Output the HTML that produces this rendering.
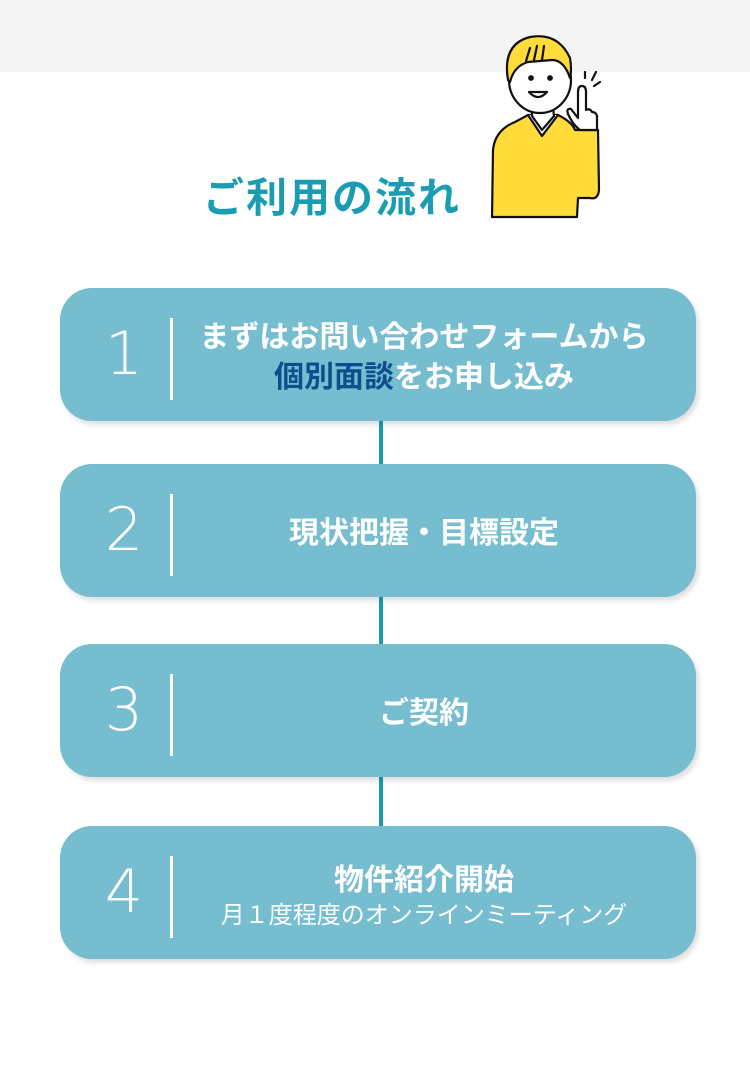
<!DOCTYPE html>
<html><head><meta charset="utf-8"><style>
body{margin:0;width:750px;height:1074px;background:#fff;position:relative;overflow:hidden;font-family:"Liberation Sans","Noto Sans CJK JP",sans-serif}
.band{position:absolute;left:0;top:0;width:750px;height:72px;background:#f4f4f4}
.title{position:absolute;left:203px;top:164px;width:300px;font-size:41px;font-weight:bold;color:#1a9db3;letter-spacing:2px;white-space:nowrap}
.line{position:absolute;left:379px;width:4px;background:#1a9bb5}
.box{position:absolute;left:60px;width:636px;height:133px;background:#76bdcf;border-radius:32px;box-shadow:3px 4px 5px rgba(0,0,0,0.12);color:#fff}
.num{position:absolute;left:30px;width:68px;top:24px;text-align:center;font-size:60px;font-weight:normal;line-height:84px;font-family:"DejaVu Sans","Liberation Sans",sans-serif;font-weight:200;color:#fff;-webkit-text-stroke:0px}
.div{position:absolute;left:110px;top:30px;width:3px;height:82px;background:#fff}
.txt{position:absolute;left:128px;right:36px;top:3px;height:133px;display:flex;flex-direction:column;justify-content:center;align-items:center;text-align:center;font-weight:bold;font-size:30px;line-height:40px;white-space:nowrap}
.sub{font-weight:normal;font-size:24px;line-height:30px}
</style></head><body>
<div class="band"></div>
<svg style="position:absolute;left:480px;top:30px" width="130" height="195" viewBox="0 0 130 195">
<g stroke="#111" stroke-width="2.2" stroke-linejoin="round" stroke-linecap="round">
<path d="M12 187 L13 120 Q15 100 35 92 L48 85 L78 85 Q92 92 95 100 L100 100 L118 100 L119 160 Q118 170 110 168 L98 168 L97 187 Z" fill="#ffdc3a"/>
<path d="M48 85 L62 106 L78 85" fill="#fff"/>
<path d="M52 70 L52 86 L62 100 L74 86 L72 70" fill="#fff"/>
<ellipse cx="60" cy="50" rx="31" ry="33" fill="#fff"/>
<path d="M28 50 Q22 14 50 7 Q78 2 90 28 Q92 40 90 48 Q84 30 72 30 L48 32 Q34 36 30 52 Z" fill="#ffdc3a"/>
<path d="M50 18 L46 31 M57 16 L54 30 M64 16 L62 30" fill="none"/>
<path d="M49 62 Q58 72 67 62 Z" fill="#fff"/>
<circle cx="51" cy="48" r="1.8" fill="#111"/><circle cx="70" cy="48" r="1.8" fill="#111"/>
<path d="M98 68 L98 62 Q98 56 102 56 Q106 56 106 62 L106 80 Q110 78 112 82 Q116 82 117 86 L117 100 L100 100 Q93 95 88 84 Q86 78 91 79 L98 88 Z" fill="#fff"/>
<path d="M105 48 L105 42 M112 50 L116 42 M114 56 L120 52" fill="none"/>
</g></svg>
<div class="title">ご利用の流れ</div>
<div class="line" style="top:420px;height:46px"></div>
<div class="line" style="top:596px;height:50px"></div>
<div class="line" style="top:776px;height:52px"></div>
<div class="box" style="top:288px"><div class="num">1</div><div class="div"></div><div class="txt"><div>まずはお問い合わせフォームから</div><div><span style="color:#0b4f8f">個別面談</span>をお申し込み</div></div></div>
<div class="box" style="top:464px"><div class="num">2</div><div class="div"></div><div class="txt"><div>現状把握・目標設定</div></div></div>
<div class="box" style="top:644px"><div class="num">3</div><div class="div"></div><div class="txt"><div>ご契約</div></div></div>
<div class="box" style="top:826px"><div class="num">4</div><div class="div"></div><div class="txt"><div>物件紹介開始</div><div class="sub">月１度程度のオンラインミーティング</div></div></div>
</body></html>
